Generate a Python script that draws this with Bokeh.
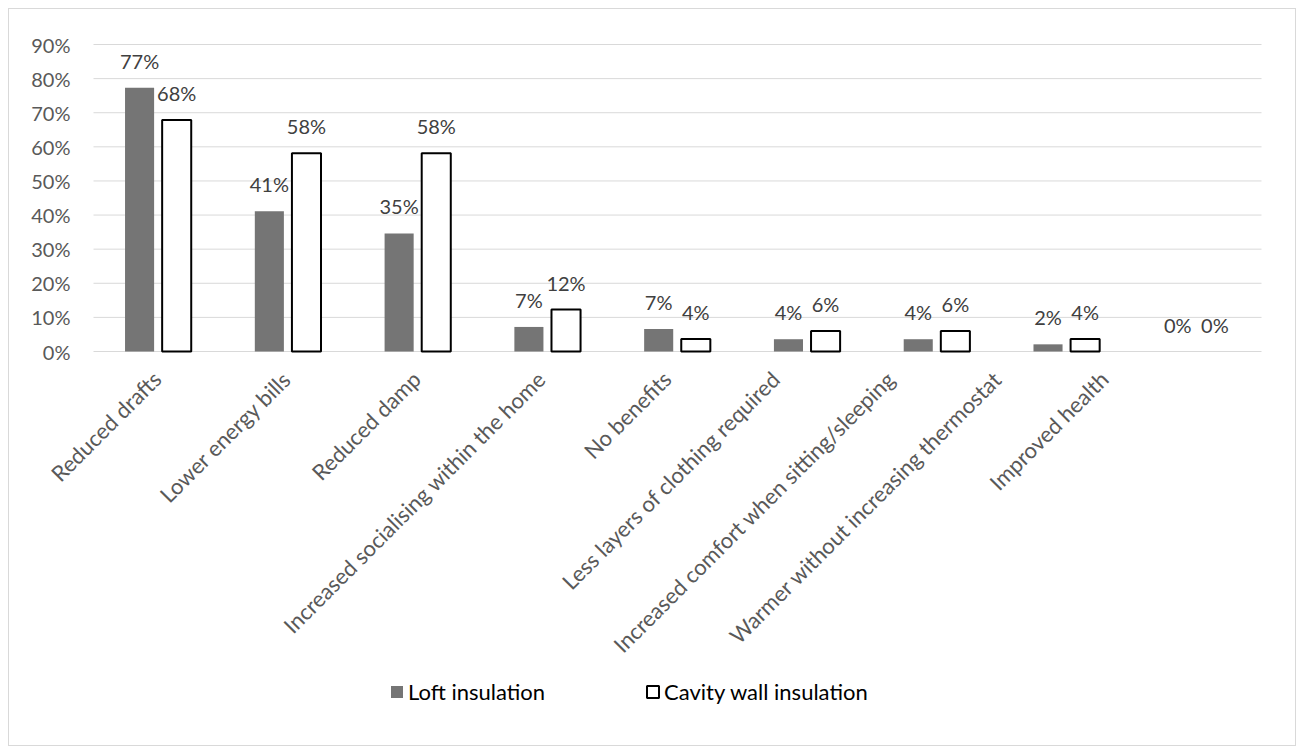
import math
from bokeh.plotting import figure
from bokeh.models import (ColumnDataSource, Range1d, Legend, LegendItem, Spacer)
from bokeh.layouts import column, row
from bokeh.transform import dodge
from bokeh.core.properties import value
from bokeh.embed import file_html
from bokeh.resources import INLINE

categories = ["Reduced drafts", "Lower energy bills", "Reduced damp",
              "Increased socialising within the home", "No benefits",
              "Less layers of clothing required",
              "Increased comfort when sitting/sleeping",
              "Warmer without increasing thermostat", "Improved health"]
loft = [0.773, 0.411, 0.346, 0.072, 0.066, 0.036, 0.036, 0.021, 0.0]
cavity = [0.679, 0.581, 0.581, 0.123, 0.037, 0.060, 0.060, 0.037, 0.0]
y_ticks = [0, 0.1, 0.2, 0.3, 0.4, 0.5, 0.6, 0.7, 0.8, 0.9]
series_names = ["Loft insulation", "Cavity wall insulation"]

# layout tweak: where each rotated category label ends, px right of its category centre
label_end_shift = [6, 6, 6, 1, -3, -24, -39, -62, -85]

FONT = "Lato"
W, H = 1288, 738
MB_L, MB_R, MB_T, MB_B = 1, 1, 1, 2
# plot-area geometry in figure pixels (as in the original chart)
PA_LEFT, PA_RIGHT, PA_TOP, PA_ZERO = 84, 1252, 35, 342

n = len(categories)
ux = (PA_RIGHT - PA_LEFT) / n
x_start = -(PA_LEFT - MB_L) / ux
x_end = n + ((W - MB_R) - PA_RIGHT) / ux
uy = (PA_ZERO - PA_TOP) / y_ticks[-1]
y_end = y_ticks[-1] + (PA_TOP - MB_T) / uy
y_start = -((H - MB_B) - PA_ZERO) / uy

# rotated-label anchor offsets (screen px) so their ends sit like the original
lx = [e - 17 for e in label_end_shift]
ly = [14] * n

src = ColumnDataSource(dict(
    xc=[i + 0.5 for i in range(n)], cat=categories, loft=loft, cavity=cavity,
    loft_lbl=[f"{round(v * 100)}%" for v in loft],
    cavity_lbl=[f"{round(v * 100)}%" for v in cavity],
    cav_line=["black" if v > 0 else None for v in cavity],
    lx=lx, ly=ly,
))
grid_src = ColumnDataSource(dict(
    tick=y_ticks, lbl=[f"{round(t * 100)}%" for t in y_ticks]))

p = figure(width=W, height=H, x_range=Range1d(x_start, x_end),
           y_range=Range1d(y_start, y_end), output_backend="svg",
           toolbar_location=None, x_axis_location=None, y_axis_location=None,
           min_border_left=MB_L, min_border_right=MB_R, min_border_top=MB_T,
           min_border_bottom=MB_B)
p.styles = {"border": "1px solid #d9d9d9", "box-sizing": "border-box"}
p.outline_line_color = None
p.grid.visible = False
p.background_fill_color = "white"
p.border_fill_color = "white"

# horizontal gridlines and value-axis labels
p.segment(x0=0, x1=n, y0="tick", y1="tick", source=grid_src,
          line_color="#d9d9d9", line_width=1)
p.text(x=0, y="tick", text="lbl", source=grid_src, x_offset=-23,
       text_align="right", text_baseline="middle", text_font=value(FONT),
       text_font_size="20px", text_color="#595959")

r_loft = p.vbar(x=dodge("xc", -0.145), top="loft", width=0.224,
                source=src, fill_color="#757575", line_color=None)
r_cav = p.vbar(x=dodge("xc", 0.141), top="cavity", width=0.224,
               source=src, fill_color="white", line_color="cav_line", line_width=2)

p.text(x=dodge("xc", -0.145), y="loft", text="loft_lbl",
       source=src, text_align="center", text_baseline="middle", y_offset=-27,
       text_font=value(FONT), text_font_size="20px", text_color="#404040")
p.text(x=dodge("xc", 0.141), y="cavity", text="cavity_lbl",
       source=src, text_align="center", text_baseline="middle", y_offset=-27,
       text_font=value(FONT), text_font_size="20px", text_color="#404040")

# category labels (rotated 45°), hung below the 0% line
p.text(x="xc", y=0, text="cat", source=src, angle=math.pi / 4,
       text_align="right", text_baseline="top", x_offset="lx", y_offset="ly",
       text_font=value(FONT), text_font_size="22px", text_color="#595959")

legend = Legend(items=[LegendItem(label=series_names[0], renderers=[r_loft]),
                       LegendItem(label=series_names[1], renderers=[r_cav])],
                orientation="horizontal",
                location=(PA_LEFT + 296 - MB_L, 40),
                border_line_color=None, background_fill_alpha=0,
                glyph_width=15, glyph_height=15, label_standoff=4, spacing=100,
                padding=0, margin=0, label_text_font=FONT,
                label_text_font_size="22px", label_text_color="black")
p.add_layout(legend, "center")

layout = column(Spacer(height=8), row(Spacer(width=8), p))
open("out.html", "w").write(file_html(layout, INLINE))
